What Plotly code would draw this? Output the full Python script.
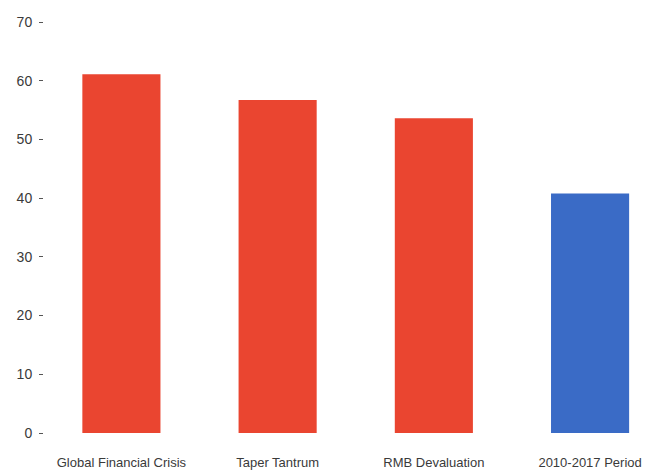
import plotly.graph_objects as go

categories = ["Global Financial Crisis", "Taper Tantrum", "RMB Devaluation", "2010-2017 Period"]
values = [61.1, 56.7, 53.6, 40.8]
bar_colors = ["#EA4530", "#EA4530", "#EA4530", "#3A6BC6"]
y_ticks = [0, 10, 20, 30, 40, 50, 60, 70]

fig = go.Figure(go.Bar(x=categories, y=values, marker=dict(color=bar_colors, line=dict(width=0))))

font_family = "Liberation Sans, Arial, sans-serif"
fig.update_layout(
    width=646, height=471,
    margin=dict(l=44, r=0, t=22, b=38),
    plot_bgcolor="white", paper_bgcolor="white",
    bargap=0.5,
    showlegend=False,
    font=dict(family=font_family, size=13, color="#3a3a3a"),
)
fig.update_xaxes(range=[-0.4955, 3.358], showgrid=False, showline=False, ticks="",
                 ticklabelstandoff=20, tickfont=dict(size=13, color="#3a3a3a"))
fig.update_yaxes(range=[0, 70], tickvals=y_ticks, showgrid=False, zeroline=False, showline=False,
                 ticks="outside", ticklen=4, tickcolor="#555555", tickwidth=1,
                 ticklabelstandoff=4, tickfont=dict(size=14, color="#3a3a3a"))

fig.write_html("out.html")
